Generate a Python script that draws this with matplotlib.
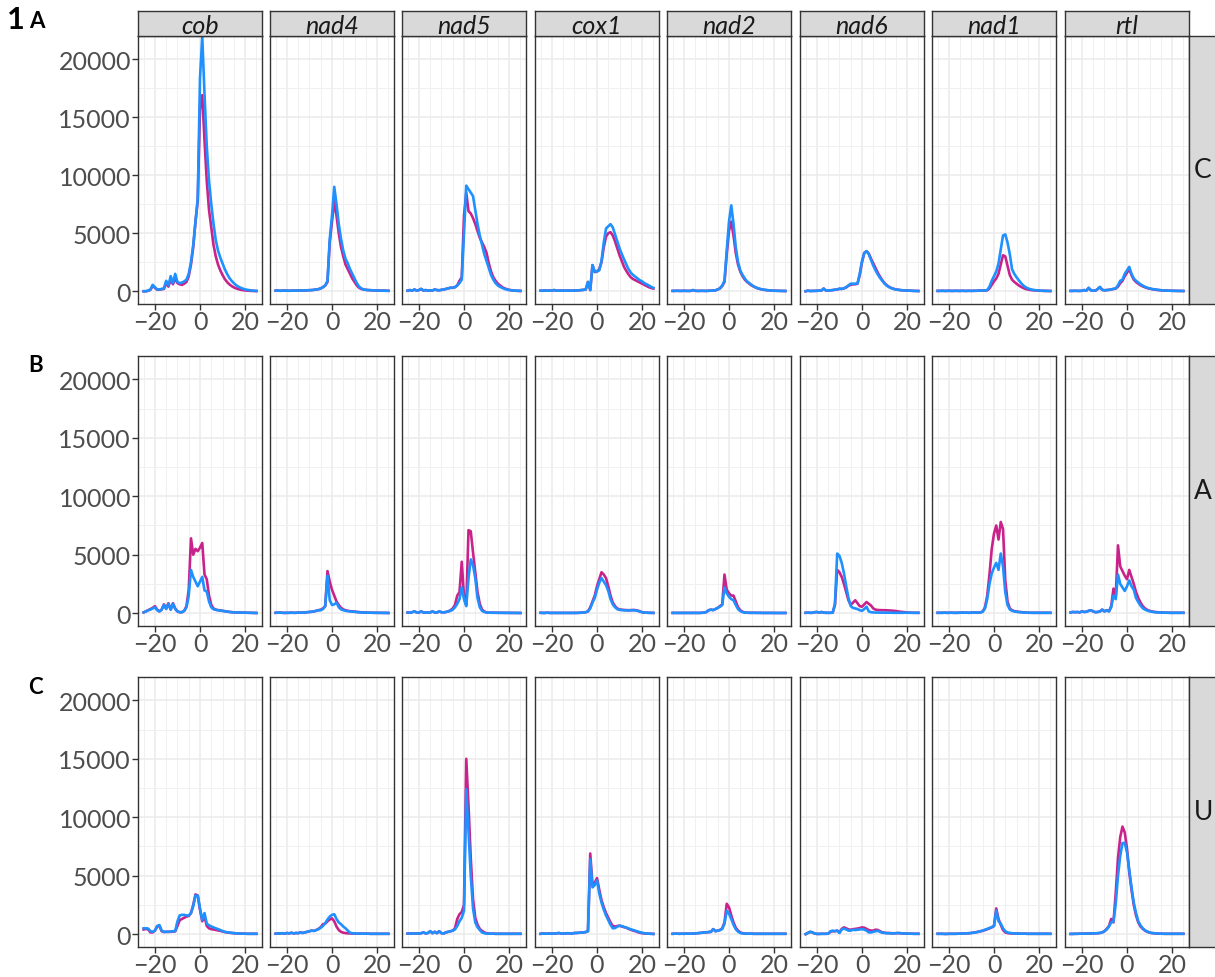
import matplotlib
matplotlib.use("Agg")
import matplotlib.pyplot as plt

# positions relative to the site (x axis), same for every panel
positions = list(range(-25, 26))

genes = ["cob", "nad4", "nad5", "cox1", "nad2", "nad6", "nad1", "rtl"]
row_names = ["C", "A", "U"]
row_letters = ["A", "B", "C"]

# ---- row C ----
c_cob_mag = [0, 0, 40, 120, 450, 300, 130, 130, 170, 200,
             700, 400, 1000, 600, 1100, 700, 600, 550, 650, 800,
             1300, 2300, 3800, 6000, 7800, 15700, 16900, 13000, 9500, 7000,
             5500, 4000, 3000, 2300, 1800, 1400, 1050, 800, 600, 450,
             330, 250, 180, 130, 100, 70, 50, 40, 30, 20, 15]
c_cob_blu = [0, 0, 50, 150, 550, 350, 150, 150, 200, 250,
             900, 500, 1300, 700, 1500, 800, 700, 750, 850, 1000,
             1500, 2500, 4000, 6000, 8000, 18400, 21900, 17000, 12500, 9500,
             7500, 5800, 4400, 3500, 2900, 2400, 1900, 1500, 1150, 900,
             700, 520, 400, 300, 220, 160, 120, 90, 60, 40, 30]
c_nad4_mag = [50, 60, 40, 50, 60, 50, 40, 50, 60, 50,
              60, 70, 60, 70, 80, 90, 100, 120, 150, 180,
              250, 350, 500, 800, 4200, 6000, 7800, 6500, 5000, 3800,
              3000, 2300, 1900, 1500, 1100, 800, 500, 300, 200, 150,
              120, 100, 90, 80, 70, 60, 60, 50, 50, 40, 40]
c_nad4_blu = [50, 60, 40, 50, 60, 50, 40, 50, 60, 50,
              60, 70, 60, 70, 80, 90, 100, 120, 150, 180,
              250, 350, 500, 900, 4500, 6500, 9000, 7500, 5800, 4500,
              3500, 2800, 2400, 1900, 1500, 1100, 700, 400, 250, 150,
              120, 100, 90, 80, 70, 60, 60, 50, 50, 40, 40]
c_nad5_mag = [50, 100, 50, 150, 50, 100, 200, 60, 100, 50,
              80, 60, 150, 100, 80, 120, 150, 200, 250, 300,
              300, 350, 500, 900, 1200, 6500, 8500, 6900, 6700, 6300,
              5800, 5200, 4600, 4200, 3800, 3300, 2400, 1700, 1200, 900,
              650, 500, 350, 250, 180, 120, 90, 60, 40, 30, 20]
c_nad5_blu = [50, 100, 50, 150, 50, 100, 200, 60, 100, 50,
              80, 60, 150, 100, 80, 120, 150, 200, 250, 300,
              300, 350, 500, 700, 1000, 5000, 9100, 8800, 8500, 8200,
              7000, 5800, 4800, 4000, 3200, 2600, 2000, 1400, 1000, 700,
              500, 380, 280, 200, 150, 100, 80, 60, 50, 40, 40]
c_cox1_mag = [50, 50, 60, 50, 50, 60, 100, 50, 50, 60,
              50, 50, 60, 50, 50, 60, 70, 80, 100, 120,
              150, 800, 100, 2250, 1650, 1700, 1900, 2500, 3800, 4700,
              5000, 5090, 4800, 4300, 3700, 3100, 2600, 2100, 1750, 1450,
              1200, 1050, 950, 850, 750, 650, 550, 450, 350, 280, 230]
c_cox1_blu = [50, 50, 60, 50, 50, 60, 100, 50, 50, 60,
              50, 50, 60, 50, 50, 60, 70, 80, 100, 120,
              150, 800, 100, 2250, 1700, 1700, 1800, 2600, 4200, 5400,
              5600, 5780, 5500, 4900, 4300, 3700, 3200, 2750, 2300, 1900,
              1600, 1400, 1250, 1100, 950, 850, 700, 600, 500, 380, 290]
c_nad2_mag = [30, 30, 40, 30, 30, 40, 30, 30, 30, 100,
              40, 30, 30, 40, 30, 30, 40, 50, 60, 80,
              150, 250, 450, 800, 3200, 5200, 6000, 4800, 3300, 2300,
              1700, 1300, 1000, 800, 650, 500, 400, 300, 230, 180,
              140, 110, 90, 70, 55, 45, 40, 35, 30, 25, 20]
c_nad2_blu = [30, 30, 40, 30, 30, 40, 30, 30, 30, 100,
              40, 30, 30, 40, 30, 30, 40, 50, 60, 80,
              150, 250, 500, 900, 3500, 6000, 7400, 5800, 3800, 2500,
              1800, 1400, 1100, 850, 700, 550, 420, 320, 250, 190,
              150, 120, 90, 70, 55, 45, 40, 35, 30, 25, 20]
c_nad6_mag = [0, 50, 20, 30, 30, 40, 50, 60, 230, 60,
              60, 80, 100, 130, 150, 200, 200, 250, 330, 480,
              550, 600, 600, 650, 1400, 2500, 3300, 3450, 3250, 2800,
              2400, 2000, 1600, 1250, 950, 700, 520, 380, 280, 210,
              160, 130, 100, 80, 70, 60, 50, 40, 30, 25, 20]
c_nad6_blu = [0, 50, 20, 30, 30, 40, 50, 60, 230, 60,
              60, 80, 100, 130, 150, 230, 200, 250, 350, 500,
              650, 650, 650, 660, 1500, 2600, 3300, 3450, 3200, 2700,
              2200, 1800, 1450, 1150, 900, 650, 480, 350, 260, 200,
              150, 120, 100, 80, 70, 60, 50, 40, 30, 25, 20]
c_nad1_mag = [30, 30, 40, 30, 30, 40, 30, 30, 40, 30,
              30, 40, 30, 30, 40, 30, 40, 40, 50, 60,
              60, 70, 80, 250, 550, 850, 1100, 1500, 2300, 3100,
              3000, 2200, 1400, 1000, 800, 650, 500, 380, 280, 200,
              150, 110, 90, 70, 60, 50, 40, 30, 30, 25, 20]
c_nad1_blu = [30, 30, 40, 30, 30, 40, 30, 30, 40, 30,
              30, 40, 30, 30, 40, 30, 40, 40, 50, 60,
              60, 70, 100, 400, 900, 1300, 1700, 2400, 3600, 4800,
              4900, 4200, 3200, 1900, 1500, 1200, 950, 700, 500, 350,
              250, 180, 130, 100, 80, 60, 50, 40, 30, 25, 20]
c_rtl_mag = [30, 30, 40, 30, 30, 40, 100, 50, 280, 80,
             50, 50, 180, 350, 120, 80, 100, 120, 150, 200,
             230, 400, 700, 900, 1300, 1600, 1900, 1400, 1000, 800,
             650, 520, 420, 340, 270, 220, 180, 150, 120, 100,
             80, 65, 55, 50, 45, 40, 35, 30, 25, 25, 20]
c_rtl_blu = [30, 30, 40, 30, 30, 40, 100, 50, 300, 80,
             50, 50, 200, 380, 120, 80, 100, 120, 150, 200,
             250, 500, 900, 1000, 1500, 1800, 2100, 1500, 1100, 900,
             750, 600, 480, 380, 300, 250, 200, 170, 140, 110,
             90, 70, 60, 50, 45, 40, 35, 30, 30, 25, 20]

# ---- row A ----
a_cob_mag = [60, 150, 250, 350, 450, 600, 300, 150, 300, 750,
             400, 850, 300, 850, 400, 150, 80, 80, 200, 600,
             2000, 6400, 5000, 5500, 5300, 5600, 6000, 3300, 2900, 1500,
             700, 400, 300, 260, 230, 200, 170, 140, 110, 90,
             70, 60, 55, 50, 45, 40, 35, 30, 25, 20, 15]
a_cob_blu = [60, 150, 250, 300, 400, 500, 250, 150, 300, 700,
             350, 800, 300, 800, 350, 150, 80, 80, 200, 500,
             1500, 3700, 3100, 2700, 2300, 2700, 3100, 1950, 1850, 1000,
             500, 330, 280, 250, 220, 190, 160, 130, 100, 80,
             70, 60, 55, 50, 45, 40, 35, 30, 25, 20, 15]
a_nad4_mag = [30, 40, 50, 30, 20, 30, 30, 40, 30, 30,
              50, 40, 60, 50, 80, 100, 120, 150, 200, 250,
              300, 400, 600, 3600, 2700, 2000, 1500, 1000, 700, 450,
              320, 250, 200, 170, 150, 130, 110, 90, 70, 60,
              50, 45, 40, 35, 30, 30, 25, 25, 20, 20, 15]
a_nad4_blu = [30, 40, 50, 30, 20, 30, 30, 40, 30, 30,
              50, 40, 60, 50, 80, 100, 120, 150, 200, 250,
              250, 350, 600, 3200, 1100, 700, 750, 900, 500, 320,
              250, 200, 170, 150, 130, 110, 90, 70, 60, 50,
              50, 45, 40, 35, 30, 30, 25, 25, 20, 20, 15]
a_nad5_mag = [50, 40, 80, 150, 60, 50, 150, 60, 50, 50,
              60, 150, 60, 50, 150, 80, 60, 100, 150, 250,
              400, 700, 1500, 1800, 4400, 1400, 700, 7100, 7000, 5200,
              3500, 1800, 800, 300, 150, 60, 40, 40, 35, 35,
              30, 30, 30, 25, 25, 25, 20, 20, 20, 15, 15]
a_nad5_blu = [50, 40, 80, 150, 60, 50, 150, 60, 50, 50,
              60, 150, 60, 50, 150, 80, 60, 100, 150, 200,
              300, 500, 800, 1200, 2200, 1200, 600, 3000, 4600, 4100,
              3000, 1300, 500, 200, 100, 50, 40, 40, 35, 35,
              30, 30, 30, 25, 25, 25, 20, 20, 20, 15, 15]
a_cox1_mag = [30, 20, 20, 40, 20, 20, 20, 20, 20, 20,
              20, 20, 20, 20, 20, 20, 20, 30, 40, 60,
              80, 150, 500, 1000, 1500, 2300, 2900, 3500, 3300, 3000,
              2300, 1500, 900, 600, 400, 320, 290, 270, 260, 250,
              260, 270, 260, 220, 150, 80, 50, 40, 30, 25, 20]
a_cox1_blu = [30, 20, 20, 40, 20, 20, 20, 20, 20, 20,
              20, 20, 20, 20, 20, 20, 20, 30, 40, 60,
              80, 150, 400, 900, 1300, 2000, 2600, 3000, 2700, 2400,
              1900, 1200, 750, 500, 340, 280, 260, 250, 240, 230,
              240, 250, 240, 200, 140, 80, 50, 40, 30, 25, 20]
a_nad2_mag = [20, 20, 20, 20, 20, 20, 20, 20, 20, 20,
              20, 20, 20, 30, 50, 100, 250, 300, 260, 350,
              450, 600, 750, 3300, 2000, 1700, 1500, 1500, 1000, 500,
              250, 120, 60, 40, 30, 30, 30, 25, 25, 25,
              20, 20, 20, 20, 20, 15, 15, 15, 15, 15, 15]
a_nad2_blu = [20, 20, 20, 20, 20, 20, 20, 20, 20, 20,
              20, 20, 20, 30, 50, 100, 250, 300, 260, 350,
              450, 550, 700, 2200, 1700, 1400, 1200, 1100, 700, 350,
              180, 90, 50, 40, 30, 30, 30, 25, 25, 25,
              20, 20, 20, 20, 20, 15, 15, 15, 15, 15, 15]
a_nad6_mag = [30, 40, 30, 30, 80, 100, 40, 100, 40, 30,
              30, 30, 40, 700, 3700, 3500, 3100, 2500, 1800, 1100,
              700, 900, 1100, 850, 600, 550, 750, 950, 800, 650,
              400, 300, 270, 260, 250, 250, 240, 230, 220, 200,
              180, 150, 120, 100, 80, 60, 50, 40, 30, 30, 30]
a_nad6_blu = [30, 40, 30, 30, 80, 100, 40, 100, 40, 30,
              30, 30, 40, 800, 5100, 4900, 4300, 3400, 2300, 1300,
              600, 450, 400, 350, 250, 200, 350, 550, 150, 80,
              60, 50, 50, 50, 40, 40, 40, 40, 40, 30,
              30, 30, 30, 30, 40, 40, 30, 30, 30, 30, 30]
a_nad1_mag = [30, 30, 30, 40, 30, 30, 40, 30, 30, 30,
              40, 50, 40, 40, 30, 50, 60, 50, 40, 60,
              150, 500, 1500, 3300, 5500, 6800, 7500, 6300, 7800, 7200,
              2800, 1000, 400, 250, 180, 130, 110, 90, 70, 50,
              40, 35, 30, 30, 30, 30, 30, 30, 30, 30, 30]
a_nad1_blu = [30, 30, 30, 40, 30, 30, 40, 30, 30, 30,
              40, 50, 40, 40, 30, 50, 60, 50, 40, 60,
              120, 400, 1200, 2500, 3400, 3900, 4300, 3700, 5100, 4000,
              1800, 700, 320, 200, 150, 110, 90, 70, 60, 50,
              40, 35, 30, 30, 30, 30, 30, 30, 30, 30, 30]
a_rtl_mag = [60, 100, 80, 100, 60, 150, 100, 120, 200, 250,
             150, 80, 100, 150, 300, 150, 250, 150, 600, 2100,
             1400, 5800, 4000, 3600, 3200, 2900, 3700, 3100, 2500, 1800,
             1300, 900, 600, 400, 280, 200, 150, 110, 90, 70,
             60, 50, 40, 40, 30, 30, 30, 30, 30, 30, 30]
a_rtl_blu = [60, 100, 80, 100, 60, 150, 100, 120, 200, 250,
             150, 80, 100, 150, 300, 150, 250, 150, 500, 1500,
             1200, 3300, 2500, 2200, 1900, 2300, 2800, 2300, 2000, 1300,
             950, 650, 420, 300, 220, 160, 120, 90, 70, 60,
             50, 45, 40, 35, 30, 30, 30, 30, 30, 30, 30]

# ---- row U ----
u_cob_mag = [400, 450, 400, 150, 150, 300, 650, 700, 250, 180,
             200, 200, 200, 220, 240, 700, 1200, 1300, 1400, 1500,
             1550, 1800, 2500, 3400, 3300, 2100, 1100, 1500, 700, 500,
             430, 400, 360, 320, 280, 230, 180, 150, 120, 100,
             80, 70, 60, 50, 40, 40, 30, 30, 30, 30, 30]
u_cob_blu = [500, 500, 480, 250, 200, 300, 700, 780, 300, 200,
             200, 200, 220, 250, 260, 1100, 1600, 1650, 1650, 1600,
             1600, 1800, 2400, 3300, 3300, 2200, 1200, 1800, 900, 750,
             660, 580, 500, 430, 350, 270, 200, 160, 130, 110,
             90, 70, 60, 50, 40, 40, 30, 30, 30, 30, 30]
u_nad4_mag = [40, 60, 50, 80, 40, 100, 60, 120, 60, 100,
              80, 150, 100, 150, 200, 250, 300, 280, 350, 450,
              600, 850, 900, 1100, 1250, 1350, 1100, 650, 350, 200,
              120, 90, 70, 60, 50, 50, 40, 40, 40, 40,
              40, 40, 30, 30, 30, 30, 30, 30, 30, 30, 30]
u_nad4_blu = [40, 60, 50, 80, 40, 100, 60, 120, 60, 100,
              80, 150, 100, 150, 200, 250, 300, 280, 350, 420,
              550, 700, 950, 1250, 1500, 1650, 1700, 1300, 1000, 850,
              650, 500, 300, 120, 80, 60, 50, 50, 40, 40,
              40, 40, 30, 30, 30, 30, 30, 30, 30, 30, 30]
u_nad5_mag = [50, 60, 50, 50, 60, 50, 80, 150, 60, 100,
              250, 80, 200, 80, 250, 80, 60, 150, 200, 250,
              300, 500, 1300, 1700, 1900, 2500, 15000, 11000, 6500, 3000,
              1400, 800, 450, 280, 150, 80, 50, 40, 40, 30,
              30, 30, 30, 30, 30, 30, 30, 30, 30, 30, 30]
u_nad5_blu = [50, 60, 50, 50, 60, 50, 80, 150, 60, 100,
              250, 80, 200, 80, 250, 80, 60, 150, 200, 250,
              300, 400, 700, 1100, 1400, 2000, 12400, 8800, 5000, 2200,
              1000, 600, 350, 150, 80, 50, 40, 40, 40, 30,
              30, 30, 30, 30, 30, 30, 30, 30, 30, 30, 30]
u_cox1_mag = [30, 50, 40, 40, 60, 40, 50, 60, 100, 50,
              50, 50, 80, 60, 50, 100, 100, 120, 130, 150,
              180, 250, 6900, 4200, 4400, 4800, 3800, 2900, 2300, 1800,
              1400, 1000, 700, 650, 700, 720, 650, 600, 550, 450,
              380, 300, 250, 180, 120, 80, 60, 50, 40, 30, 20]
u_cox1_blu = [30, 50, 40, 40, 60, 40, 50, 60, 100, 50,
              50, 50, 80, 60, 50, 100, 100, 120, 130, 150,
              180, 250, 6400, 4000, 4200, 4600, 3500, 2700, 2100, 1600,
              1200, 800, 500, 520, 650, 720, 700, 620, 560, 480,
              420, 350, 290, 230, 170, 120, 80, 60, 40, 30, 20]
u_nad2_mag = [30, 40, 40, 30, 40, 30, 50, 40, 40, 50,
              60, 80, 100, 120, 150, 150, 180, 200, 430, 250,
              300, 350, 500, 1000, 2600, 2300, 1600, 1000, 550, 300,
              150, 80, 50, 40, 40, 40, 30, 30, 30, 30,
              30, 30, 30, 30, 30, 30, 30, 30, 30, 30, 30]
u_nad2_blu = [30, 40, 40, 30, 40, 30, 50, 40, 40, 50,
              60, 80, 100, 120, 150, 150, 180, 200, 430, 250,
              300, 350, 450, 900, 2000, 1750, 1300, 800, 420, 220,
              100, 60, 50, 40, 40, 40, 30, 30, 30, 30,
              30, 30, 30, 30, 30, 30, 30, 30, 30, 30, 30]
u_nad6_mag = [0, 100, 200, 150, 50, 20, 20, 30, 30, 30,
              40, 200, 250, 250, 300, 150, 450, 580, 500, 400,
              380, 420, 450, 480, 520, 580, 550, 450, 350, 300,
              300, 380, 360, 250, 150, 120, 100, 90, 80, 70,
              80, 90, 80, 60, 50, 50, 40, 40, 30, 30, 30]
u_nad6_blu = [0, 100, 200, 150, 50, 20, 20, 30, 30, 30,
              40, 250, 300, 250, 300, 100, 400, 480, 400, 300,
              300, 380, 350, 380, 400, 430, 380, 300, 150, 150,
              200, 250, 280, 200, 120, 100, 80, 80, 70, 60,
              80, 100, 80, 60, 50, 50, 40, 40, 30, 30, 30]
u_nad1_mag = [30, 30, 30, 20, 20, 30, 30, 30, 30, 40,
              40, 50, 60, 70, 80, 100, 130, 160, 200, 250,
              280, 350, 420, 500, 580, 700, 2200, 1300, 800, 350,
              150, 90, 70, 60, 50, 50, 40, 40, 40, 40,
              30, 30, 30, 30, 30, 30, 30, 30, 30, 30, 30]
u_nad1_blu = [30, 30, 30, 20, 20, 30, 30, 30, 30, 40,
              40, 50, 60, 70, 80, 100, 130, 160, 200, 250,
              300, 380, 450, 520, 600, 700, 2000, 1100, 900, 500,
              250, 150, 100, 80, 60, 50, 50, 40, 40, 40,
              30, 30, 30, 30, 30, 30, 30, 30, 30, 30, 30]
u_rtl_mag = [20, 20, 30, 30, 40, 40, 40, 50, 50, 60,
             60, 70, 80, 100, 150, 250, 450, 700, 1300, 1000,
             3500, 6500, 8300, 9200, 8700, 7300, 5300, 3800, 2500, 1600,
             1000, 650, 450, 300, 200, 130, 90, 70, 50, 40,
             40, 30, 30, 30, 30, 30, 30, 30, 30, 30, 30]
u_rtl_blu = [20, 20, 30, 30, 40, 40, 40, 50, 50, 60,
             60, 70, 80, 100, 150, 250, 400, 650, 1000, 1100,
             2600, 5000, 6700, 7800, 7800, 7000, 5500, 4000, 2700, 1800,
             1100, 750, 500, 330, 220, 150, 100, 80, 60, 50,
             40, 40, 30, 30, 30, 30, 30, 30, 30, 30, 30]

mag_color = "#C8238A"
blu_color = "#1E90FF"

plt.rcParams['font.family'] = ['Lato', 'DejaVu Sans']

W, H = 1215, 978
fig = plt.figure(figsize=(W / 100, H / 100), dpi=100)


def box(x0, y0, x1, y1):
    # axes placed by pixel box (top-left origin)
    return fig.add_axes([x0 / W, 1 - y1 / H, (x1 - x0) / W, (y1 - y0) / H])


lefts = [138, 270, 402, 535, 667, 800, 932, 1065]
pw = 124
rows_tb = [(37, 305), (357, 627), (678, 948)]
prefix = ["c", "a", "u"]

for r, (top, bot) in enumerate(rows_tb):
    for g, gene in enumerate(genes):
        ax = box(lefts[g], top, lefts[g] + pw, bot)
        ym = globals()[prefix[r] + "_" + gene + "_mag"]
        yb = globals()[prefix[r] + "_" + gene + "_blu"]
        ax.plot(positions, ym, color=mag_color, lw=1.9, solid_joinstyle="round")
        ax.plot(positions, yb, color=blu_color, lw=1.9, solid_joinstyle="round")
        ax.set_xlim(-27.5, 27.5)
        ax.set_ylim(-1100, 22000)
        ax.set_xticks([-20, 0, 20])
        ax.set_xticks([-25, -15, -10, -5, 5, 10, 15, 25], minor=True)
        ax.set_yticks([0, 5000, 10000, 15000, 20000])
        ax.set_yticks([2500, 7500, 12500, 17500], minor=True)
        ax.grid(which="major", color="#EBEBEB", lw=1.1)
        ax.grid(which="minor", color="#F0F0F0", lw=0.7)
        ax.set_axisbelow(True)
        ax.tick_params(which="major", length=4, width=1, color="#333333",
                       labelsize=18, labelcolor="#4D4D4D", pad=1)
        ax.tick_params(axis="x", which="major", pad=0)
        ax.tick_params(which="minor", length=0)
        if g > 0:
            ax.tick_params(axis="y", which="major", length=0, labelleft=False)
        for s in ax.spines.values():
            s.set_color("#333333")
            s.set_linewidth(1)
        # top strips only on the first row
        if r == 0:
            st = box(lefts[g], 12, lefts[g] + pw, 37)
            st.set_facecolor("#D9D9D9")
            st.set_xticks([])
            st.set_yticks([])
            for s in st.spines.values():
                s.set_color("#333333")
                s.set_linewidth(1)
            st.text(0.5, 0.42, gene, transform=st.transAxes, ha="center", va="center",
                    fontsize=18, style="italic", color="#1A1A1A")
    # right strip
    rs = box(1189, top, 1240, bot)
    rs.set_facecolor("#D9D9D9")
    rs.set_xticks([])
    rs.set_yticks([])
    for s in rs.spines.values():
        s.set_color("#333333")
        s.set_linewidth(1)
    fig.text(1203 / W, 1 - (top + bot) / 2 / H, row_names[r], ha="center", va="center",
             fontsize=19, color="#1A1A1A")

fig.text(7 / W, 1 - 20 / H, "1", fontsize=22, fontweight="bold", ha="left", va="center")
fig.text(29 / W, 1 - 21 / H, row_letters[0], fontsize=16, fontweight="bold", ha="left", va="center")
fig.text(28 / W, 1 - 366 / H, row_letters[1], fontsize=16, fontweight="bold", ha="left", va="center")
fig.text(28 / W, 1 - 688 / H, row_letters[2], fontsize=16, fontweight="bold", ha="left", va="center")

fig.savefig("out.png", dpi=100)
